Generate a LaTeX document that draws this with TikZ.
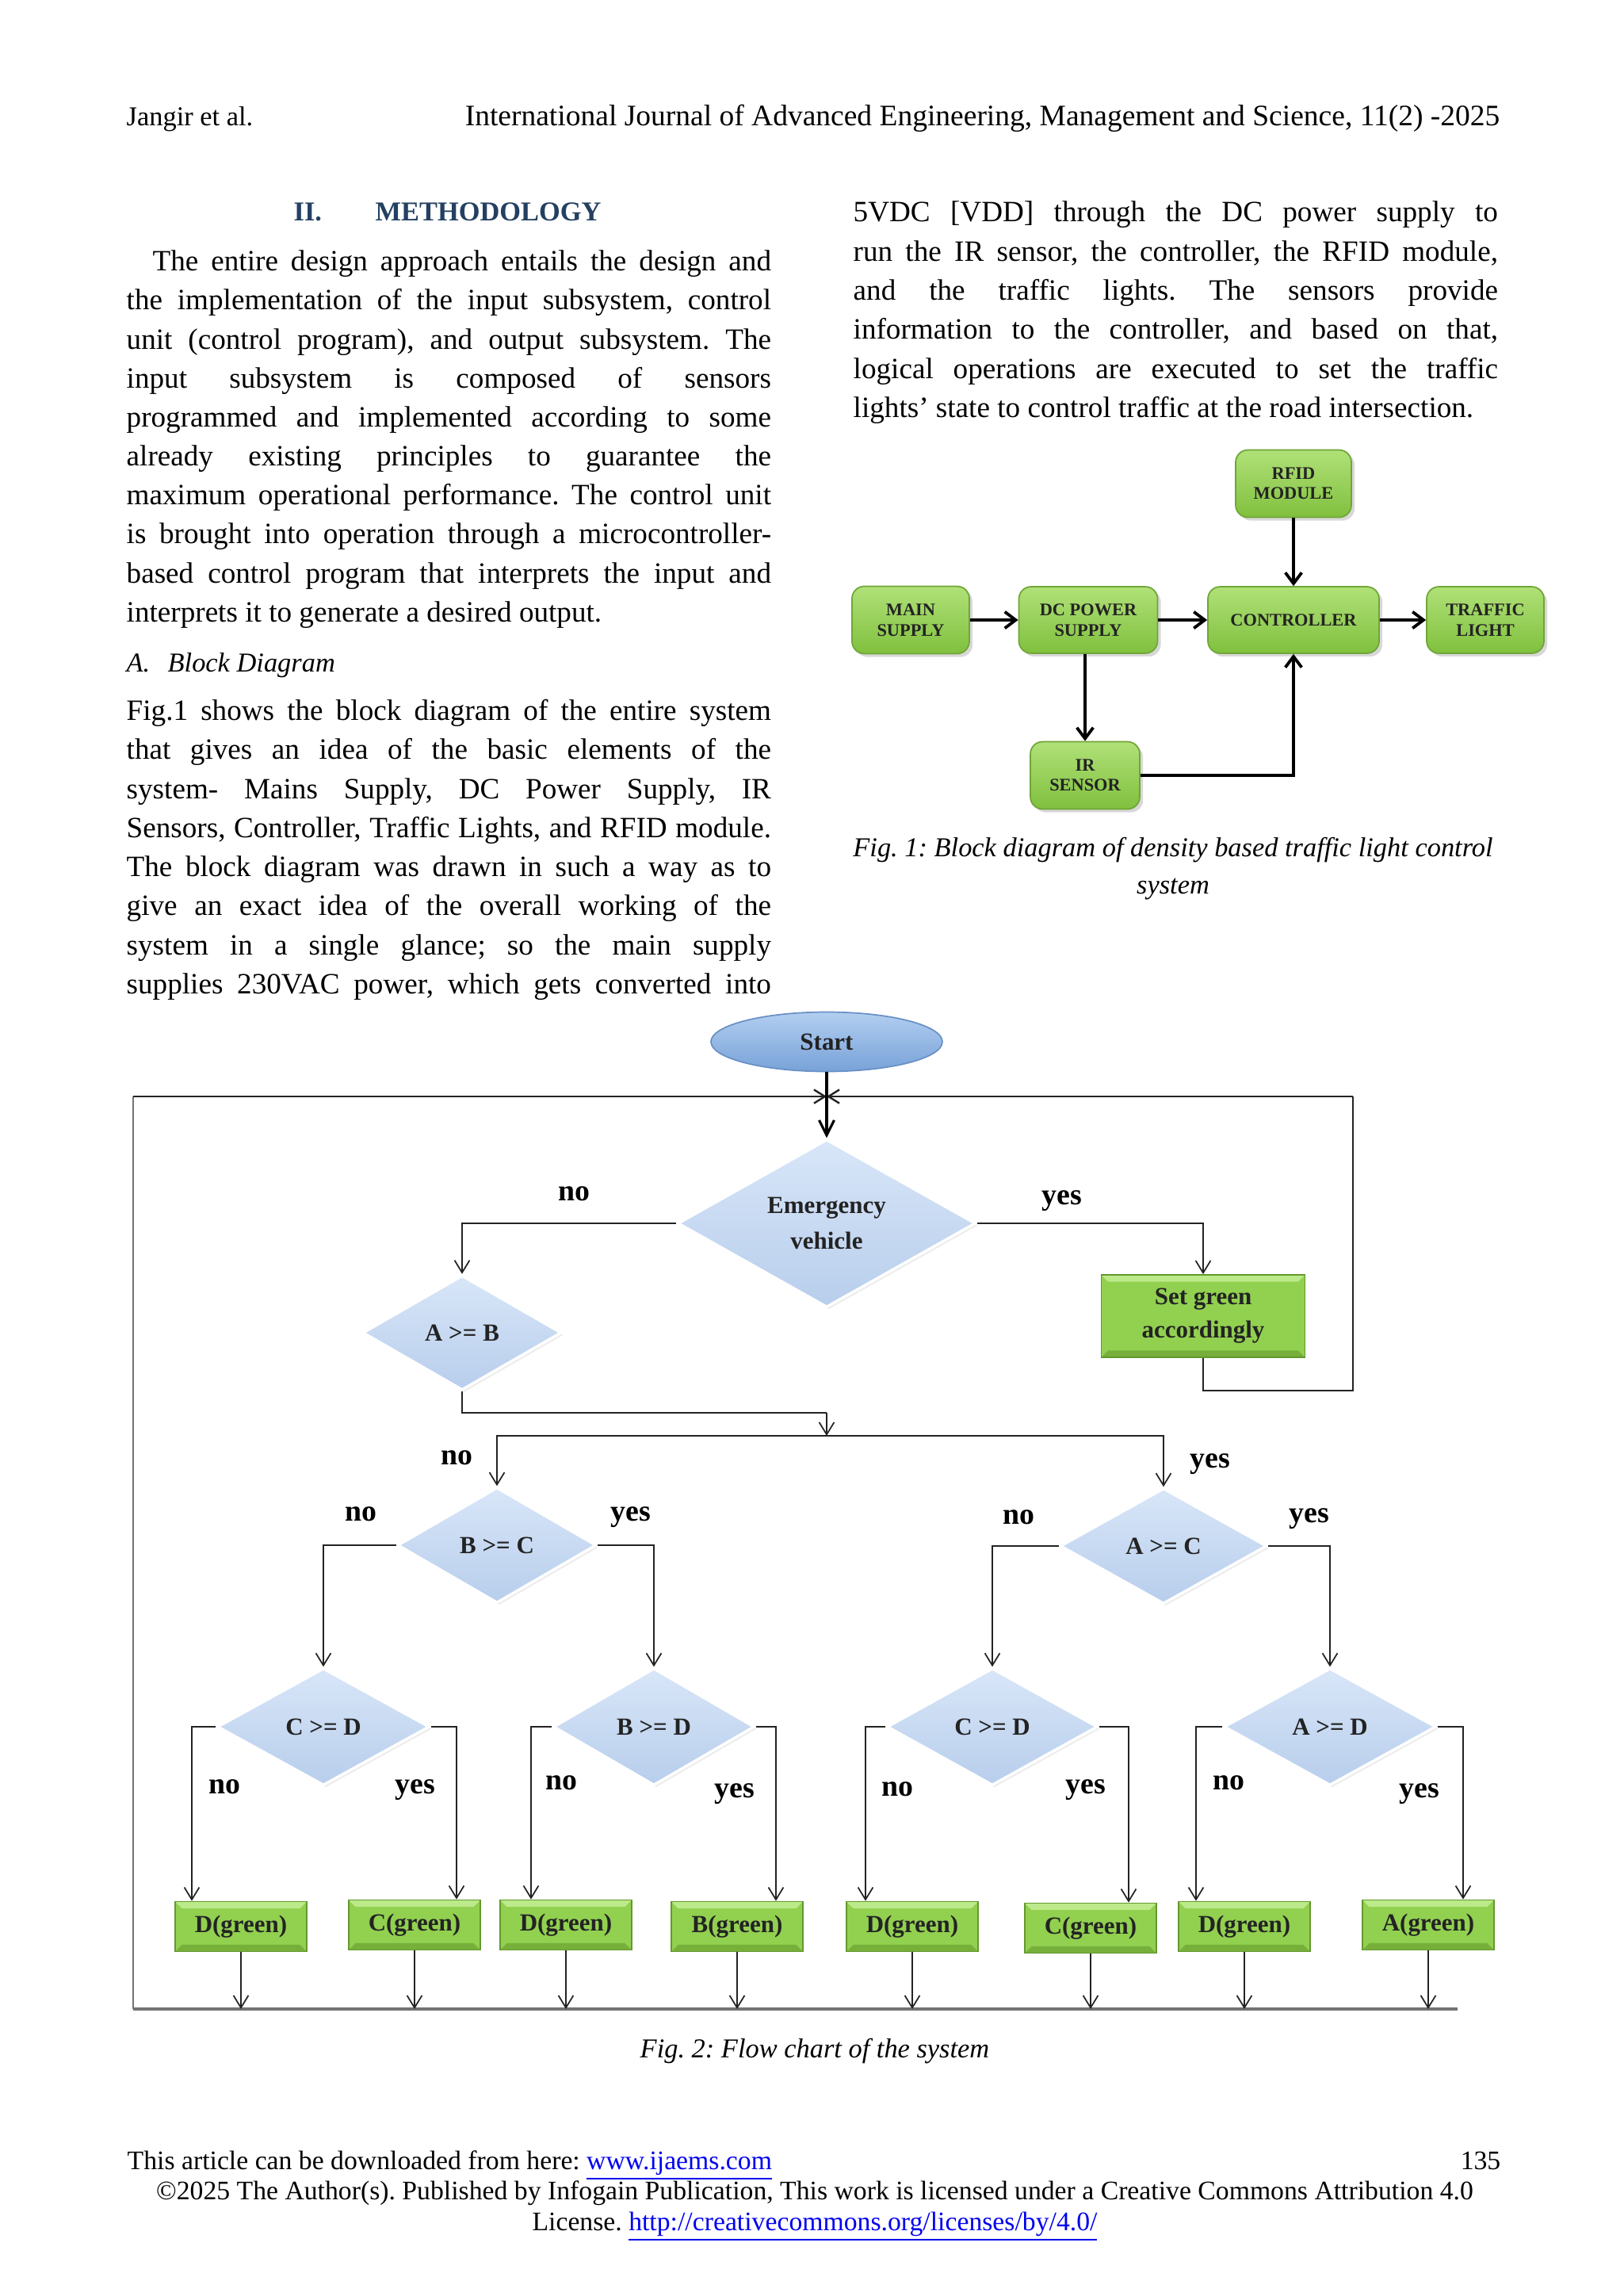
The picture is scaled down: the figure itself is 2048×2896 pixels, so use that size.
\documentclass[tikz,border=0pt]{standalone}
\usepackage{fontspec}
\setmainfont{Liberation Serif}
\usetikzlibrary{shapes.geometric,arrows.meta,shadows,calc}

\definecolor{headblue}{RGB}{36,64,97}
\definecolor{linkblue}{RGB}{0,0,238}
\definecolor{gfill}{RGB}{146,208,80}
\definecolor{gtop}{RGB}{176,225,120}
\definecolor{gbot}{RGB}{128,192,62}
\definecolor{gedge}{RGB}{112,165,55}
\definecolor{gdark}{RGB}{100,152,46}
\definecolor{gbevel}{RGB}{188,234,138}
\definecolor{gshade}{RGB}{118,176,58}
\definecolor{dtop}{RGB}{216,230,248}
\definecolor{dbot}{RGB}{184,206,236}
\definecolor{stopc}{RGB}{178,206,240}
\definecolor{sbot}{RGB}{120,162,216}
\definecolor{sedge}{RGB}{104,144,198}
\definecolor{lgrey}{RGB}{115,115,115}
\definecolor{lblack}{RGB}{35,35,35}

\newlength\colw \setlength\colw{236.4pt}
\newcommand\JL[4]{\node[txt] (#1) at (#2,#3) {\makebox[\colw][s]{#4}};}
\newcommand\LL[4]{\node[txt] (#1) at (#2,#3) {#4};}
\frenchspacing

\begin{document}
\begin{tikzpicture}[x=0.29065pt, y=-0.29065pt,
  txt/.style={anchor=base west, inner sep=0, font=\fontsize{10.8}{12.9}\selectfont},
  sz/.style 2 args={minimum width=#1*0.29065pt, minimum height=#2*0.29065pt},
  blk/.style={rounded corners=4.5pt, draw=gedge, line width=0.5pt, top color=gtop, bottom color=gbot,
    drop shadow={shadow xshift=1.2pt, shadow yshift=-1.2pt, opacity=0.3},
    font=\fontsize{6.5}{7.4}\selectfont\bfseries, align=center, inner sep=0, text=lblack},
  barr/.style={line width=1.1pt, -{Straight Barb[length=4pt,width=6pt]}},
  dia/.style={diamond, aspect=1.75, inner sep=0, draw=white, line width=1pt, top color=dtop, bottom color=dbot,
    drop shadow={shadow xshift=0.8pt, shadow yshift=-0.8pt, opacity=0.15},
    font=\fontsize{9}{12.8}\selectfont\bfseries, align=center, text=lblack},
  gbox/.style={rectangle, inner sep=0, fill=gfill, draw=gdark, line width=0.5pt, align=center,
    font=\fontsize{9}{12.2}\selectfont\bfseries, text=lblack,
    path picture={
      \fill[gbevel] (path picture bounding box.north west) -- (path picture bounding box.north east)
        -- ([xshift=-2.5pt,yshift=-2.5pt]path picture bounding box.north east)
        -- ([xshift=2.5pt,yshift=-2.5pt]path picture bounding box.north west) -- cycle;
      \fill[gshade] (path picture bounding box.south west) -- (path picture bounding box.south east)
        -- ([xshift=-2.5pt,yshift=2.5pt]path picture bounding box.south east)
        -- ([xshift=2.5pt,yshift=2.5pt]path picture bounding box.south west) -- cycle;
    }},
  startsty/.style={ellipse, inner sep=0, top color=stopc, bottom color=sbot, draw=sedge, line width=0.5pt,
    font=\fontsize{9}{11}\selectfont\bfseries, text=lblack},
  arr/.style={line width=0.5pt, draw=lblack, -{Straight Barb[length=4.5pt,width=5.5pt]}},
  conn/.style={line width=0.5pt, draw=lblack},
  thickarr/.style={line width=0.9pt, draw=black, -{Straight Barb[length=5.5pt,width=5.5pt]}},
  lab/.style={anchor=base, inner sep=0, font=\fontsize{11}{13}\selectfont\bfseries}
]
\useasboundingbox (0,0) rectangle (2048,2896);
\fill[white] (0,0) rectangle (2048,2896);

% ---------- header ----------
\node[txt, font=\fontsize{10}{12}\selectfont] (hdl) at (159,158) {Jangir et al.};
\node[txt, anchor=base east, font=\fontsize{10.9}{12}\selectfont] (hdr) at (1893,158)
  {International Journal of Advanced Engineering, Management and Science, 11(2) -2025};

% ---------- left column ----------
\node[txt, font=\fontsize{10}{12}\selectfont\bfseries, text=headblue] (h1) at (370,278) {II.};
\node[txt, font=\fontsize{10}{12}\selectfont\bfseries, text=headblue] (h2) at (473,278) {METHODOLOGY};

\node[txt] (l1) at (192,341) {\makebox[\dimexpr\colw-9.6pt\relax][s]{The entire design approach entails the design and}};
\JL{l2}{159}{390}{the implementation of the input subsystem, control}
\JL{l3}{159}{440}{unit (control program), and output subsystem. The}
\JL{l4}{159}{489}{input subsystem is composed of sensors}
\JL{l5}{159}{538}{programmed and implemented according to some}
\JL{l6}{159}{587}{already existing principles to guarantee the}
\JL{l7}{159}{636}{maximum operational performance. The control unit}
\JL{l8}{159}{685}{is brought into operation through a microcontroller-}
\JL{l9}{159}{735}{based control program that interprets the input and}
\LL{l10}{159}{784}{interprets it to generate a desired output.}

\node[txt, font=\fontsize{10}{12}\selectfont\itshape] (sub) at (159,847) {A.\hspace{6.5pt}Block Diagram};

\JL{m1}{159}{908}{Fig.1 shows the block diagram of the entire system}
\JL{m2}{159}{957}{that gives an idea of the basic elements of the}
\JL{m3}{159}{1007}{system- Mains Supply, DC Power Supply, IR}
\JL{m4}{159}{1056}{Sensors, Controller, Traffic Lights, and RFID module.}
\JL{m5}{159}{1105}{The block diagram was drawn in such a way as to}
\JL{m6}{159}{1154}{give an exact idea of the overall working of the}
\JL{m7}{159}{1204}{system in a single glance; so the main supply}
\JL{m8}{159}{1253}{supplies 230VAC power, which gets converted into}

% ---------- right column ----------
\JL{r1}{1076}{279}{5VDC [VDD] through the DC power supply to}
\JL{r2}{1076}{329}{run the IR sensor, the controller, the RFID module,}
\JL{r3}{1076}{378}{and the traffic lights. The sensors provide}
\JL{r4}{1076}{427}{information to the controller, and based on that,}
\JL{r5}{1076}{477}{logical operations are executed to set the traffic}
\LL{r6}{1076}{526}{lights’ state to control traffic at the road intersection.}

% ---------- Fig. 1 block diagram ----------
\node[blk, sz={146}{85}] (rfid) at (1632,610) {RFID\\MODULE};
\node[blk, sz={148}{85}] (mains) at (1149,782) {MAIN\\SUPPLY};
\node[blk, sz={175}{84}] (dcps) at (1373,782) {DC POWER\\SUPPLY};
\node[blk, sz={216}{84}] (ctrl) at (1632,782) {CONTROLLER};
\node[blk, sz={148}{84}] (tl) at (1874,782) {TRAFFIC\\LIGHT};
\node[blk, sz={138}{85}] (ir) at (1369,978) {IR\\SENSOR};

\draw[barr] (mains) -- (dcps);
\draw[barr] (dcps) -- (ctrl);
\draw[barr] (ctrl) -- (tl);
\draw[barr] (rfid) -- (ctrl);
\draw[barr] (ir.north |- dcps.south) -- (ir.north);
\draw[barr] (ir.east) -| (ctrl.south);

\node[txt, anchor=base, font=\fontsize{10}{12}\selectfont\itshape] (cap1a) at (1480,1080)
  {Fig. 1: Block diagram of density based traffic light control};
\node[txt, anchor=base, font=\fontsize{10}{12}\selectfont\itshape] (cap1b) at (1480,1127) {system};

% ---------- Fig. 2 flow chart ----------
\node[startsty, sz={292}{75}] (start) at (1043,1314) {Start};
\node[dia, sz={376}{212}] (emerg) at (1043,1543) {Emergency\\vehicle};
\node[gbox, sz={257}{104}] (setg) at (1518,1660) {Set green\\accordingly};
\node[dia, sz={251}{145}] (aB) at (583,1681) {A >= B};
\node[dia, sz={251}{146}] (bC) at (627,1949) {B >= C};
\node[dia, sz={261}{146}] (aC) at (1468,1950) {A >= C};
\node[dia, sz={268}{148}] (cDa) at (408,2178) {C >= D};
\node[dia, sz={254}{148}] (bD) at (825,2178) {B >= D};
\node[dia, sz={266}{148}] (cDb) at (1252,2178) {C >= D};
\node[dia, sz={268}{148}] (aD) at (1678,2178) {A >= D};

\node[gbox, sz={166}{63}] (b1) at (304,2430) {D(green)};
\node[gbox, sz={166}{63}] (b2) at (523,2428) {C(green)};
\node[gbox, sz={166}{63}] (b3) at (714,2428) {D(green)};
\node[gbox, sz={166}{63}] (b4) at (930,2430) {B(green)};
\node[gbox, sz={166}{63}] (b5) at (1151,2430) {D(green)};
\node[gbox, sz={166}{63}] (b6) at (1376,2432) {C(green)};
\node[gbox, sz={166}{63}] (b7) at (1570,2430) {D(green)};
\node[gbox, sz={166}{63}] (b8) at (1802,2428) {A(green)};

\coordinate (junc) at (1043,1383);
\coordinate (topL) at (168,1383);
\coordinate (botL) at (168,2534);
\coordinate (botR) at (1839,2534);
\coordinate (setgB) at (1518,1754);
\coordinate (loopR) at (1707,1754);
\coordinate (topR) at (1707,1383);
\coordinate (mergeT) at (1043,1782);
\coordinate (split) at (1043,1811);
\coordinate (k1) at (242,2178);
\coordinate (k2) at (576,2178);
\coordinate (k3) at (670,2178);
\coordinate (k4) at (979,2178);
\coordinate (k5) at (1092,2178);
\coordinate (k6) at (1424,2178);
\coordinate (k7) at (1509,2178);
\coordinate (k8) at (1846,2178);

% loop lines
\draw[line width=0.9pt, draw=lgrey] (botL) -- (botR);
\draw[line width=0.45pt, draw=lgrey] (botL) -- (topL);
\draw[line width=0.7pt, draw=lblack, -{Straight Barb[length=4pt,width=5pt]}] (topL) -- (junc);
\draw[conn] (setg.south) -- (setgB) -- (loopR) -- (topR);
\draw[line width=0.7pt, draw=lblack, -{Straight Barb[length=4pt,width=5pt]}] (topR) -- (junc);
\draw[thickarr] (start.south) -- (emerg.north);

% emergency branches
\draw[arr] (emerg.west) -| (aB.north);
\draw[arr] (emerg.east) -| (setg.north);
\draw[conn] (aB.south) |- (mergeT);
\draw[arr] (mergeT) -- (split);
\draw[arr] (split) -| (bC.north);
\draw[arr] (split) -| (aC.north);

% second level
\draw[arr] (bC.west) -| (cDa.north);
\draw[arr] (bC.east) -| (bD.north);
\draw[arr] (aC.west) -| (cDb.north);
\draw[arr] (aC.east) -| (aD.north);

% third level
\draw[arr] (cDa.west) -- (k1) -- (k1 |- b1.north);
\draw[arr] (cDa.east) -- (k2) -- (k2 |- b2.north);
\draw[arr] (bD.west) -- (k3) -- (k3 |- b3.north);
\draw[arr] (bD.east) -- (k4) -- (k4 |- b4.north);
\draw[arr] (cDb.west) -- (k5) -- (k5 |- b5.north);
\draw[arr] (cDb.east) -- (k6) -- (k6 |- b6.north);
\draw[arr] (aD.west) -- (k7) -- (k7 |- b7.north);
\draw[arr] (aD.east) -- (k8) -- (k8 |- b8.north);

% outputs to bottom line
\foreach \b in {b1,b2,b3,b4,b5,b6,b7,b8}
  \draw[arr] (\b.south) -- (\b.south |- botL);

% labels
\node[lab] (n0) at (724,1514) {no};
\node[lab] (y0) at (1340,1519) {yes};
\node[lab] (n1) at (576,1847) {no};
\node[lab] (y1) at (1527,1851) {yes};
\node[lab] (n2) at (455,1918) {no};
\node[lab] (y2) at (796,1918) {yes};
\node[lab] (n3) at (1285,1922) {no};
\node[lab] (y3) at (1652,1920) {yes};
\node[lab] (n4) at (283,2262) {no};
\node[lab] (y4) at (524,2262) {yes};
\node[lab] (n5) at (708,2257) {no};
\node[lab] (y5) at (927,2267) {yes};
\node[lab] (n6) at (1132,2265) {no};
\node[lab] (y6) at (1370,2262) {yes};
\node[lab] (n7) at (1550,2257) {no};
\node[lab] (y7) at (1791,2267) {yes};

\node[txt, anchor=base, font=\fontsize{10}{12}\selectfont\itshape] (cap2) at (1028,2595) {Fig. 2: Flow chart of the system};

% ---------- footer ----------
\node[txt, font=\fontsize{9.8}{11}\selectfont] (f1) at (160,2736)
  {This article can be downloaded from here: \textcolor{linkblue}{\underline{www.ijaems.com}}};
\node[txt, anchor=base east, font=\fontsize{9.8}{11}\selectfont] (f1r) at (1894,2736) {135};
\node[txt, anchor=base, font=\fontsize{9.8}{11}\selectfont] (f2) at (1028,2774)
  {©2025 The Author(s). Published by Infogain Publication, This work is licensed under a Creative Commons Attribution 4.0};
\node[txt, anchor=base, font=\fontsize{9.8}{11}\selectfont] (f3) at (1028,2813)
  {License. \textcolor{linkblue}{\underline{http://creativecommons.org/licenses/by/4.0/}}};
\end{tikzpicture}
\end{document}
